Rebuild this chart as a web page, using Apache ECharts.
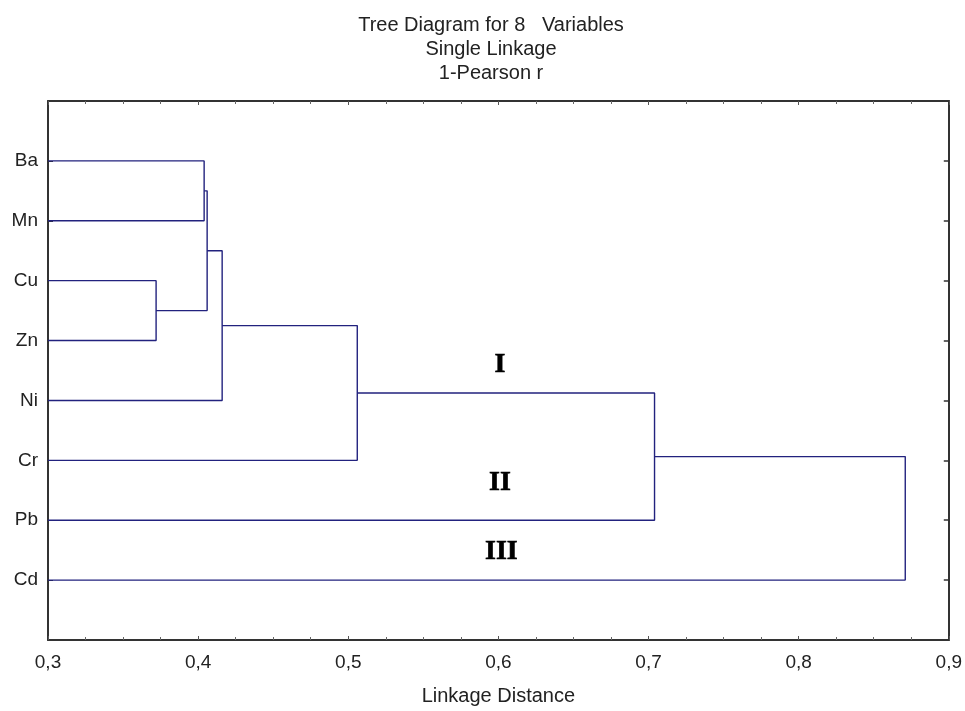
<!DOCTYPE html>
<html>
<head>
<meta charset="utf-8">
<script src="https://cdn.jsdelivr.net/npm/echarts@6/dist/echarts.min.js"></script>
<style>html,body{margin:0;padding:0;background:#fff}#c{width:965px;height:711px}</style>
</head>
<body>
<div id="c"></div>
<script>
// ---- data ----
const titleLines = ['Tree Diagram for 8   Variables', 'Single Linkage', '1-Pearson r'];
const leaves = ['Ba', 'Mn', 'Cu', 'Zn', 'Ni', 'Cr', 'Pb', 'Cd'];
// merges: node ids 0..7 are leaves, each merge creates a new node 8, 9, ...
const mergeLeft  = [2, 0, 9, 10, 11, 12, 13];
const mergeRight = [3, 1, 8, 4, 5, 6, 7];
const mergeDist  = [0.372, 0.404, 0.406, 0.416, 0.506, 0.704, 0.871];
const xMin = 0.3, xMax = 0.9, xStep = 0.1;
const xAxisName = 'Linkage Distance';
const clusterLabels = ['I', 'II', 'III'];
const clusterLabelX = [0.601, 0.601, 0.602];
const clusterLabelY = [4.4, 6.38, 7.53];

// ---- build dendrogram paths ----
const nodeY = leaves.map((_, i) => i + 1);
const nodeH = leaves.map(() => xMin);
const series = [];
const lineColor = '#22227e';
for (let k = 0; k < mergeDist.length; k++) {
  const a = mergeLeft[k], b = mergeRight[k], h = mergeDist[k];
  series.push({
    type: 'line', symbol: 'none', animation: false, silent: true,
    lineStyle: { color: lineColor, width: 1.4 },
    data: [[nodeH[a], nodeY[a]], [h, nodeY[a]], [h, nodeY[b]], [nodeH[b], nodeY[b]]]
  });
  nodeY.push((nodeY[a] + nodeY[b]) / 2);
  nodeH.push(h);
}
series.push({
  type: 'scatter', symbolSize: 0, animation: false, silent: true,
  itemStyle: { opacity: 1 },
  data: clusterLabels.map((t, i) => ({ value: [clusterLabelX[i], clusterLabelY[i]], name: t })),
  label: {
    show: true, position: 'inside', formatter: p => p.name,
    fontFamily: 'Liberation Serif', fontWeight: 'bold', fontSize: 28, color: '#000',
    textBorderColor: '#000', textBorderWidth: 0.6, opacity: 1
  }
});

const txt = '#222';
const font = 'Liberation Sans';
const axisLineStyle = { color: '#333', width: 2 };
const leafTicks = leaves.map((_, i) => i + 1);
const chart = echarts.init(document.getElementById('c'), null, { renderer: 'canvas' });
chart.setOption({
  backgroundColor: '#fff',
  title: {
    text: titleLines.join('\n'), left: 486, top: 8, textAlign: 'center',
    textStyle: { fontFamily: font, fontWeight: 'normal', fontSize: 20, lineHeight: 24, color: txt }
  },
  grid: { left: 48, right: 15, top: 101, bottom: 70, containLabel: false },
  xAxis: [{
    type: 'value', position: 'bottom', min: xMin, max: xMax, interval: xStep,
    name: xAxisName, nameLocation: 'middle', nameGap: 46,
    nameTextStyle: { fontFamily: font, fontSize: 20, color: txt },
    axisLine: { show: true, onZero: false, lineStyle: axisLineStyle },
    axisTick: { show: true, inside: true, length: 4, lineStyle: { color: '#555' } },
    minorTick: { show: true, splitNumber: 4, length: 3, lineStyle: { color: '#666' } },
    splitLine: { show: false },
    axisLabel: { margin: 13, fontFamily: font, fontSize: 19, color: txt,
      formatter: v => v.toFixed(1).replace('.', ',') }
  }, {
    type: 'value', position: 'top', min: xMin, max: xMax, interval: xStep,
    axisLine: { show: true, onZero: false, lineStyle: axisLineStyle },
    axisTick: { show: true, inside: true, length: 4, lineStyle: { color: '#555' } },
    minorTick: { show: true, splitNumber: 4, length: 3, lineStyle: { color: '#666' } },
    splitLine: { show: false }, axisLabel: { show: false }
  }],
  yAxis: [{
    type: 'value', position: 'left', min: 0, max: leaves.length + 1, interval: 1, inverse: true,
    axisLine: { show: true, onZero: false, lineStyle: axisLineStyle },
    axisTick: { show: true, inside: true, length: 5, customValues: leafTicks, lineStyle: { color: '#333' } },
    splitLine: { show: false },
    axisLabel: { margin: 10, fontFamily: font, fontSize: 19, color: txt, customValues: leafTicks,
      formatter: v => (v >= 1 && v <= leaves.length) ? leaves[v - 1] : '' }
  }, {
    type: 'value', position: 'right', min: 0, max: leaves.length + 1, interval: 1, inverse: true,
    axisLine: { show: true, onZero: false, lineStyle: axisLineStyle },
    axisTick: { show: true, inside: true, length: 5, customValues: leafTicks, lineStyle: { color: '#333', width: 1.5 } },
    splitLine: { show: false }, axisLabel: { show: false }
  }],
  series: series
});
</script>
</body>
</html>
